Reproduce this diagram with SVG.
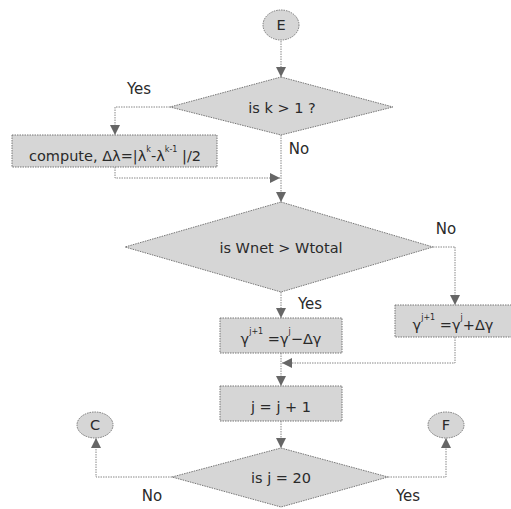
<svg xmlns="http://www.w3.org/2000/svg" width="511" height="509" viewBox="0 0 511 509">
<defs>
<style>
.n{fill:#d6d6d6;stroke:#777;stroke-width:1;stroke-dasharray:1.5 1}
.c{fill:none;stroke:#888;stroke-width:1;stroke-dasharray:1.5 1;marker-end:url(#a)}
.l{fill:none;stroke:#888;stroke-width:1;stroke-dasharray:1.5 1}
text{font-family:"DejaVu Sans",Verdana,sans-serif;font-size:14.5px;fill:#2a2a2a;text-anchor:middle}
.lb{font-size:15px}
.s{font-size:8px}
</style>
<marker id="a" viewBox="0 0 10 10" refX="10" refY="5" markerWidth="10" markerHeight="10" orient="auto" markerUnits="userSpaceOnUse">
<path d="M0,0 L10,5 L0,10 Z" fill="#666"/>
</marker>
</defs>
<rect width="511" height="509" fill="#fff"/>
<g id="connectors">
<path class="c" d="M281,41 V77"/>
<path class="l" d="M170,107 H115"/>
<path class="c" d="M115,107 V135"/>
<path class="c" d="M115,167 V178 H280"/>
<path class="c" d="M281,135 V202"/>
<path class="l" d="M433,247 H455"/>
<path class="c" d="M455,247 V305"/>
<path class="c" d="M281,292 V318"/>
<path class="c" d="M455,337 V363 H282"/>
<path class="c" d="M281,353 V386"/>
<path class="c" d="M281,421 V448"/>
<path class="c" d="M172,477 H96 V438"/>
<path class="c" d="M388,477 H446 V438"/>
<text class="lb" x="139" y="94">Yes</text>
<text class="lb" x="299" y="154">No</text>
<text class="lb" x="446" y="234">No</text>
<text class="lb" x="310" y="309">Yes</text>
<text class="lb" x="152" y="501">No</text>
<text class="lb" x="408" y="501">Yes</text>
</g>
<g id="E"><ellipse class="n" cx="281" cy="25" rx="18" ry="15"/><text x="281" y="30">E</text></g>
<g id="d1"><polygon class="n" points="281,77 393,107 281,135 170,107"/><text x="282" y="113">is k &gt; 1 ?</text></g>
<g id="compute"><rect class="n" x="12" y="135" width="205" height="32"/><text x="115" y="161">compute, Δλ=|λ<tspan class="s" dy="-9">k</tspan><tspan dy="9">-λ</tspan><tspan class="s" dy="-9">k-1</tspan><tspan dy="9"> |/2</tspan></text></g>
<g id="d2"><polygon class="n" points="281,202 433,247 281,292 125,247"/><text x="281" y="253">is Wnet &gt; Wtotal</text></g>
<g id="minus"><rect class="n" x="220" y="318" width="122" height="35"/><text x="281" y="344">γ<tspan class="s" dy="-10">j+1</tspan><tspan dy="10"> =γ</tspan><tspan class="s" dy="-10">j</tspan><tspan dy="10">−Δγ</tspan></text></g>
<g id="plus"><rect class="n" x="395" y="305" width="120" height="32"/><text x="453" y="330">γ<tspan class="s" dy="-10">j+1</tspan><tspan dy="10"> =γ</tspan><tspan class="s" dy="-10">j</tspan><tspan dy="10">+Δγ</tspan></text></g>
<g id="inc"><rect class="n" x="220" y="386" width="122" height="35"/><text x="281" y="412">j = j + 1</text></g>
<g id="d3"><polygon class="n" points="281,448 388,477 281,507 172,477"/><text x="281" y="483">is j = 20</text></g>
<g id="C"><ellipse class="n" cx="95" cy="425" rx="18" ry="13"/><text x="95" y="430">C</text></g>
<g id="F"><ellipse class="n" cx="446" cy="425" rx="18" ry="13"/><text x="446" y="430">F</text></g>
</svg>
